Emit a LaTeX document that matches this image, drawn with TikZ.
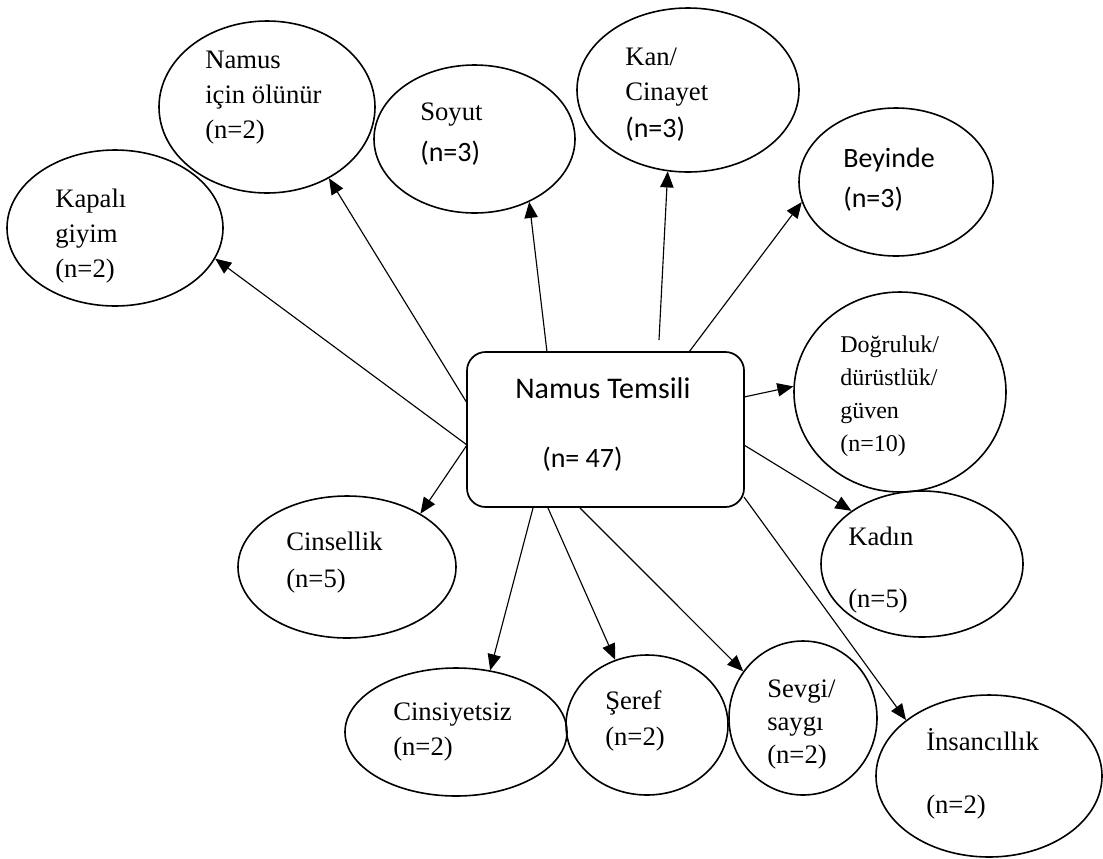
\documentclass[tikz,border=0pt]{standalone}
\usepackage{fontspec}
\setmainfont{Liberation Serif}
\setsansfont{Carlito}
\usetikzlibrary{shapes.geometric,arrows.meta}
\begin{document}
\begin{tikzpicture}[x=0.75pt,y=-0.75pt,
  ell/.style 2 args={ellipse,draw,line width=1.2pt,minimum width=#1*1.5pt,minimum height=#2*1.5pt,inner sep=0pt},
  mainbox/.style={rectangle,draw,line width=1.3pt,rounded corners=14pt,minimum width=207.75pt,minimum height=116.25pt,inner sep=0pt},
  txt/.style={anchor=base west,inner sep=0pt,font=\fontsize{20}{26.25}\selectfont},
  smalltxt/.style={anchor=base west,inner sep=0pt,font=\fontsize{18}{24.75}\selectfont},
  sanstxt/.style={anchor=base west,inner sep=0pt,font=\sffamily\fontsize{21}{30}\selectfont},
  conn/.style={line width=0.85pt,-{Triangle[length=12pt,width=10pt]}}]
\useasboundingbox (0,0) rectangle (1103,858);

% ellipses
\node[ell={108}{78}] (kap) at (115,228) {};
\node[ell={108}{86}] (nio) at (267,107) {};
\node[ell={100.5}{74}] (soy) at (474.5,139) {};
\node[ell={111}{82}] (kan) at (688,90) {};
\node[ell={97}{74}] (bey) at (896,182) {};
\node[ell={106}{100}] (dog) at (900,392) {};
\node[ell={101}{73}] (kad) at (922,564) {};
\node[ell={113}{81}] (ins) at (989,776) {};
\node[ell={74}{77}] (sev) at (803,718) {};
\node[ell={81}{70}] (ser) at (647,725) {};
\node[ell={111}{64}] (cns) at (456,732) {};
\node[ell={109}{71}] (cel) at (347,567) {};

% central box
\node[mainbox] (box) at (605.5,429.5) {};
\node[sanstxt,font=\sffamily\fontsize{22.5}{30}\selectfont] (boxt1) at (515,398) {Namus Temsili};
\node[sanstxt] (boxt2) at (542,467) {(n= 47)};

% texts
\node[txt] (kapt) at (55,207) {\vtop{\hbox{Kapalı}\hbox{giyim}\hbox{(n=2)}}};
\node[txt] (niot) at (205,68) {\vtop{\hbox{Namus}\hbox{için ölünür}\hbox{(n=2)}}};
\node[txt] (soyt) at (420,120) {\vtop{\hbox{Soyut}\vskip5pt\hbox{\sffamily\fontsize{21}{30}\selectfont(n=3)}}};
\node[txt] (kant) at (625,65) {\vtop{\hbox{Kan/}\hbox{Cinayet}\vskip2pt\hbox{\sffamily\fontsize{21}{30}\selectfont(n=3)}}};
\node[sanstxt] (beyt) at (843,167) {\vtop{\hbox{Beyinde}\hbox{(n=3)}}};
\node[smalltxt] (dogt) at (840,352) {\vtop{\hbox{Doğruluk/}\hbox{dürüstlük/}\hbox{güven}\hbox{(n=10)}}};
\node[txt] (kadt) at (848,545) {\vtop{\hbox{Kadın}\vskip20.25pt\hbox{(n=5)}}};
\node[txt] (inst) at (926,750) {\vtop{\hbox{İnsancıllık}\vskip21pt\hbox{(n=2)}}};
\node[txt] (sevt) at (767,697) {\vtop{\baselineskip=25pt\hbox{Sevgi/}\hbox{saygı}\hbox{(n=2)}}};
\node[txt] (sert) at (605,709) {\vtop{\hbox{Şeref}\vskip0.75pt\hbox{(n=2)}}};
\node[txt] (cnst) at (393,720) {\vtop{\hbox{Cinsiyetsiz}\hbox{(n=2)}}};
\node[txt] (celt) at (286,550) {\vtop{\hbox{Cinsellik}\vskip1.5pt\hbox{(n=5)}}};

% start points on the box border
\coordinate (snio) at (467,403);
\coordinate (bw) at (467,445);
\coordinate (ssoy) at (547,352);
\coordinate (skan) at (659,340);
\coordinate (sbey) at (689,352);
\coordinate (sdog) at (744,397);
\coordinate (skad) at (744,445);
\coordinate (sins) at (744,497);
\coordinate (scns) at (533,508);
\coordinate (sser) at (548,508);
\coordinate (ssev) at (580,508);

% connectors
\draw[conn] (bw) -- (kap.-17);
\draw[conn] (snio) -- (nio.-49);
\draw[conn] (ssoy) -- (soy.-49);
\draw[conn] (skan) -- (kan.256.5);
\draw[conn] (sbey) -- (bey.192);
\draw[conn] (sdog) -- (dog.177);
\draw[conn] (skad) -- (kad.143.5);
\draw[conn] (sins) -- (ins.146.6);
\draw[conn] (ssev) -- (sev.142.5);
\draw[conn] (sser) -- (ser.116.6);
\draw[conn] (scns) -- (cns.61.3);
\draw[conn] (bw) -- (cel.36.3);
\end{tikzpicture}
\end{document}
